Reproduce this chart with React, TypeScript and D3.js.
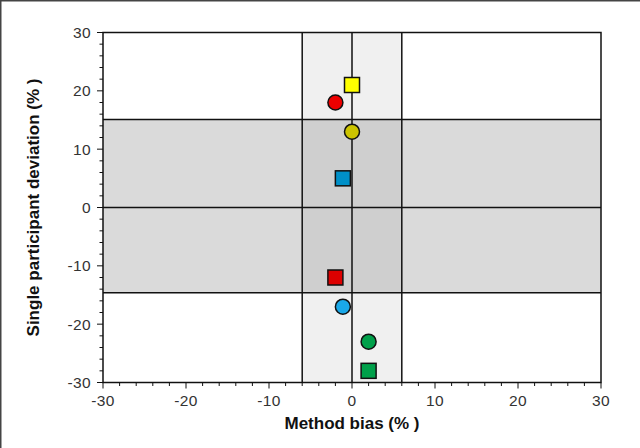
import React from "react";
import * as d3 from "d3";

const xTicks = [-30, -20, -10, 0, 10, 20, 30];
const yTicks = [-30, -20, -10, 0, 10, 20, 30];
const pointX = [0, -2, 0, -1.1, -2, -1.1, 2, 2];
const pointY = [21, 18, 13, 5, -12, -17, -23, -28];
const pointShape = ["square", "circle", "circle", "square", "square", "circle", "circle", "square"];
const pointColor = ["#FFFF00", "#EE0000", "#CCC400", "#0090C8", "#DD0000", "#1AA8E8", "#00A04A", "#00A04A"];
const biasLimit = [-6, 6];
const deviationLimit = [-14.6, 15.1];

export default function App() {
  const W = 640, H = 448;
  const x = d3.scaleLinear().domain([-30, 30]).range([103, 601]);
  const y = d3.scaleLinear().domain([-30, 30]).range([382.5, 32.5]);
  const xMinor = d3.range(-30, 30.01, 2);
  const yMinor = d3.range(-30, 30.01, 2);
  const font = "'Liberation Sans', Arial, sans-serif";
  const s = 15;
  return (
    <svg width={W} height={H} style={{ position: "absolute", left: 0, top: 0, background: "#fff" }}>
      <rect x={0} y={0} width={W} height={H} fill="#fff" />
      <line x1={0} y1={0.75} x2={W} y2={0.75} stroke="#444" strokeWidth={1.5} />
      <line x1={0.75} y1={0} x2={0.75} y2={H} stroke="#444" strokeWidth={1.5} />
      {/* bands */}
      <rect x={x(biasLimit[0])} y={y(30)} width={x(biasLimit[1]) - x(biasLimit[0])} height={y(-30) - y(30)} fill="#F0F0F0" />
      <rect x={x(-30)} y={y(deviationLimit[1])} width={x(30) - x(-30)} height={y(deviationLimit[0]) - y(deviationLimit[1])} fill="#DADADA" />
      <rect x={x(biasLimit[0])} y={y(deviationLimit[1])} width={x(biasLimit[1]) - x(biasLimit[0])} height={y(deviationLimit[0]) - y(deviationLimit[1])} fill="#CFCFCF" />
      {biasLimit.map((b, i) => (
        <line key={"bl" + i} x1={x(b)} x2={x(b)} y1={y(30)} y2={y(-30)} stroke="#111" strokeWidth={1.5} />
      ))}
      {deviationLimit.map((d, i) => (
        <line key={"dl" + i} x1={x(-30)} x2={x(30)} y1={y(d)} y2={y(d)} stroke="#111" strokeWidth={1.5} />
      ))}
      <line x1={x(0)} x2={x(0)} y1={y(30)} y2={y(-30)} stroke="#111" strokeWidth={1.5} />
      <line x1={x(-30)} x2={x(30)} y1={y(0)} y2={y(0)} stroke="#111" strokeWidth={1.5} />
      <rect x={x(-30)} y={y(30)} width={x(30) - x(-30)} height={y(-30) - y(30)} fill="none" stroke="#111" strokeWidth={1.5} />
      {/* ticks */}
      {xMinor.map((t, i) => (
        <line key={"xm" + i} x1={x(t)} x2={x(t)} y1={y(-30)} y2={y(-30) + (t % 10 === 0 ? 6 : 3.5)} stroke="#111" strokeWidth={1} />
      ))}
      {yMinor.map((t, i) => (
        <line key={"ym" + i} x1={x(-30)} x2={x(-30) - (t % 10 === 0 ? 6 : 3.5)} y1={y(t)} y2={y(t)} stroke="#111" strokeWidth={1} />
      ))}
      {xTicks.map((t) => (
        <text key={"xt" + t} x={x(t)} y={405.5} textAnchor="middle" fontFamily={font} fontSize={15.5} letterSpacing={0.4} fill="#333">{t}</text>
      ))}
      {yTicks.map((t) => (
        <text key={"yt" + t} x={91} y={y(t) + 5.5} textAnchor="end" fontFamily={font} fontSize={15.5} letterSpacing={0.4} fill="#333">{t}</text>
      ))}
      <text x={x(0)} y={429} textAnchor="middle" fontFamily={font} fontSize={17} fontWeight="bold" fill="#111">Method bias (% )</text>
      <text transform={`translate(39, ${y(0)}) rotate(-90)`} textAnchor="middle" fontFamily={font} fontSize={17} fontWeight="bold" fill="#111">Single participant deviation (% )</text>
      {/* points */}
      {pointX.map((px, i) =>
        pointShape[i] === "square" ? (
          <rect key={"p" + i} x={x(px) - s / 2} y={y(pointY[i]) - s / 2} width={s} height={s} fill={pointColor[i]} stroke="#111" strokeWidth={1.5} />
        ) : (
          <circle key={"p" + i} cx={x(px)} cy={y(pointY[i])} r={s / 2} fill={pointColor[i]} stroke="#111" strokeWidth={1.5} />
        )
      )}
    </svg>
  );
}
